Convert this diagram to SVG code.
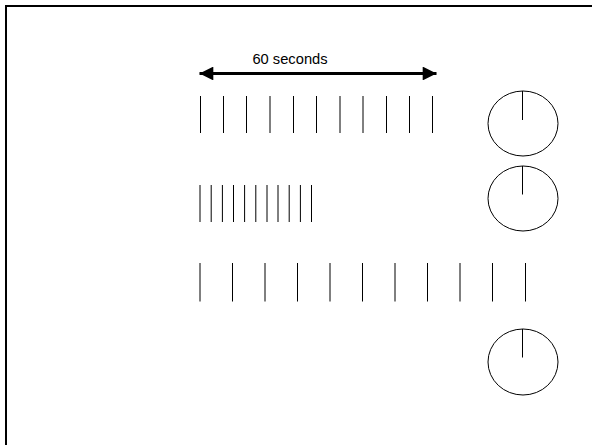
<svg xmlns="http://www.w3.org/2000/svg" width="592" height="445" viewBox="0 0 592 445">
<style>
.tick{stroke:#000;stroke-width:1;fill:none}
.dial{stroke:#000;stroke-width:1;fill:none}
.lbl{font-family:"Liberation Sans",Arial,sans-serif;font-size:14.7px;fill:#000}
</style>
<defs>
<marker id="ah" viewBox="0 0 10 10" refX="10" refY="5" markerWidth="5" markerHeight="4.6" orient="auto-start-reverse" markerUnits="strokeWidth">
<path d="M0,0 L10,5 L0,10 Z" fill="#000"/>
</marker>
</defs>
<rect width="592" height="445" fill="#fff"/>
<path d="M6,445 V6 H592" fill="none" stroke="#000" stroke-width="2"/>
<g id="connectors">
<line x1="199.5" y1="73.5" x2="436.5" y2="73.5" stroke="#000" stroke-width="3" marker-start="url(#ah)" marker-end="url(#ah)"/>
</g>
<g id="label">
<text class="lbl" x="290" y="64.2" text-anchor="middle">60 seconds</text>
</g>
<g id="row1">
<path class="tick" d="M200.5,96V133 M223.5,96V133 M246.5,96V133 M270,96V133 M293.5,96V133 M316.5,96V133 M340,96V133 M363,96V133 M386.5,96V133 M409.5,96V133 M432.5,96V133"/>
</g>
<g id="row2">
<path class="tick" d="M200,185V222 M211.2,185V222 M222.4,185V222 M233.5,185V222 M244.6,185V222 M255.8,185V222 M267,185V222 M278,185V222 M289.2,185V222 M300.4,185V222 M311.5,185V222"/>
</g>
<g id="row3">
<path class="tick" d="M200,263V301.5 M232.5,263V301.5 M265,263V301.5 M297.5,263V301.5 M330,263V301.5 M362.5,263V301.5 M395,263V301.5 M427.5,263V301.5 M460,263V301.5 M492.5,263V301.5 M525.5,263V301.5"/>
</g>
<g id="dial1">
<ellipse class="dial" cx="523" cy="123.5" rx="35" ry="32.5"/>
<line class="dial" x1="522.5" y1="91" x2="522.5" y2="120"/>
</g>
<g id="dial2">
<ellipse class="dial" cx="523" cy="198.5" rx="35" ry="32.5"/>
<line class="dial" x1="522.5" y1="166" x2="522.5" y2="194.5"/>
</g>
<g id="dial3">
<ellipse class="dial" cx="523" cy="362" rx="35" ry="33"/>
<line class="dial" x1="522.5" y1="329" x2="522.5" y2="357.5"/>
</g>
</svg>
